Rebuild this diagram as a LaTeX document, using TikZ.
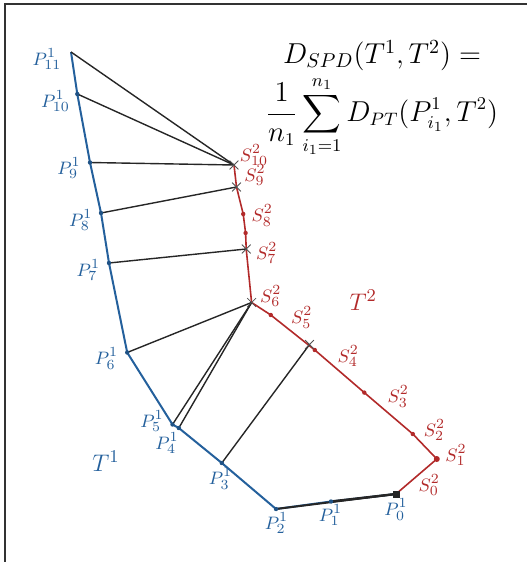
\documentclass[tikz,border=0pt]{standalone}
\usepackage{amsmath,amssymb}
\usepackage{tikz}
\usetikzlibrary{positioning,shapes.misc}
\usepackage{xcolor}
\definecolor{trajblue}{RGB}{36,96,156}
\definecolor{trajred}{RGB}{178,42,42}
\definecolor{projgray}{RGB}{38,38,38}

\begin{document}
\begin{tikzpicture}[x=0.5pt, y=-0.5pt,
  lab/.style={inner sep=0pt, font=\fontsize{9.5}{11}\selectfont},
  plab/.style={lab, text=trajblue},
  slab/.style={lab, text=trajred},
  tlab/.style={inner sep=0pt, font=\fontsize{13}{15}\selectfont},
  tone/.style={draw=trajblue, line width=1pt, line join=round},
  ttwo/.style={draw=trajred, line width=0.8pt, line join=round},
  proj/.style={draw=projgray, line width=0.7pt},
  pdot/.style={circle, fill=trajblue!85!black, inner sep=0pt, minimum size=2.2pt},
  sdot/.style={circle, fill=trajred, inner sep=0pt, minimum size=2.2pt},
  hit/.style={cross out, draw=projgray!80, line width=0.4pt, inner sep=0pt, minimum size=4pt}]
\useasboundingbox (0,0) rectangle (527,562);
\draw[line width=0.7pt, black!80] (5,562) -- (5,4) -- (527,4);

% trajectory T^1
\coordinate (P0) at (396,494);
\coordinate (P1) at (331,501.5);
\coordinate (P2) at (276,509);
\coordinate (P3) at (221.8,463);
\coordinate (P4) at (178.8,428);
\coordinate (P5) at (172.5,424.5);
\coordinate (P6) at (127.2,352.5);
\coordinate (P7) at (109,263);
\coordinate (P8) at (101,213);
\coordinate (P9) at (90,162.5);
\coordinate (P10) at (77.3,94);
\coordinate (P11) at (71,52);

% trajectory T^2
\coordinate (S0) at (396,494);
\coordinate (S1) at (436.8,459);
\coordinate (S2) at (412.8,434);
\coordinate (S3) at (364.3,392.6);
\coordinate (S4) at (314.8,350);
\coordinate (S5) at (270.8,315);
\coordinate (S6) at (251.6,302.5);
\coordinate (S7) at (246.2,249);
\coordinate (Sx) at (245.6,233);
\coordinate (S8) at (243.2,214);
\coordinate (S9) at (236.5,187);
\coordinate (S10) at (234,165);
\coordinate (X) at (309.5,344.5);

\draw[tone] (P0) -- (P1) -- (P2) -- (P3) -- (P4) -- (P5) -- (P6) -- (P7)
  -- (P8) -- (P9) -- (P10) -- (P11);
\draw[ttwo] (S0) -- (S1) -- (S2) -- (S3) -- (S4) -- (S5) -- (S6) -- (S7)
  -- (Sx) -- (S8) -- (S9) -- (S10);

% closest points
\foreach \p/\s in {P11/S10,P10/S10,P9/S10,P8/S9,P7/S7,P6/S6,P5/S6,P4/S6,P3/X}
  \draw[proj] (\p) -- (\s);
\draw[proj, line width=1pt] (P2) -- (S0);
\draw[proj, line width=1.2pt] (P1) -- (S0);

\foreach \p in {P1,P2,P3,P4,P5,P6,P7,P8,P9,P10}
  \node[pdot] at (\p) {};
\foreach \s in {S2,S3,S4,S5,S8,Sx}
  \node[sdot] at (\s) {};
\node[sdot, minimum size=3pt] at (S1) {};
\node[fill=projgray, inner sep=0pt, minimum size=3.5pt] at (P0) {};
\foreach \s in {S10,S9,S7,S6,X}
  \node[hit] at (\s) {};

% labels
\node[plab] (lP11) at (47,59) {$P^1_{11}$};
\node[plab] (lP10) at (55.5,101) {$P^1_{10}$};
\node[plab] (lP9) at (69,168) {$P^1_{9}$};
\node[plab] (lP8) at (80.7,220) {$P^1_{8}$};
\node[plab] (lP7) at (88.3,270) {$P^1_{7}$};
\node[plab] (lP6) at (106.5,358.5) {$P^1_{6}$};
\node[plab] (lP5) at (152,421) {$P^1_{5}$};
\node[plab] (lP4) at (167,443) {$P^1_{4}$};
\node[plab] (lP3) at (220.5,478.5) {$P^1_{3}$};
\node[plab] (lP2) at (276.5,523) {$P^1_{2}$};
\node[plab] (lP1) at (330.5,515) {$P^1_{1}$};
\node[plab] (lP0) at (396,509.5) {$P^1_{0}$};
\node[slab] (lS0) at (429.3,485) {$S^2_{0}$};
\node[slab] (lS1) at (456,455) {$S^2_{1}$};
\node[slab] (lS2) at (434.5,430) {$S^2_{2}$};
\node[slab] (lS3) at (398.3,396.5) {$S^2_{3}$};
\node[slab] (lS4) at (348.3,356) {$S^2_{4}$};
\node[slab] (lS5) at (301.7,317.5) {$S^2_{5}$};
\node[slab] (lS6) at (270.7,296) {$S^2_{6}$};
\node[slab] (lS7) at (266.7,253) {$S^2_{7}$};
\node[slab] (lS8) at (262.3,215.5) {$S^2_{8}$};
\node[slab] (lS9) at (255,175) {$S^2_{9}$};
\node[slab] (lS10) at (254,155) {$S^2_{10}$};
\node[tlab, text=trajblue] (lT1) at (106,461.5) {$T^1$};
\node[tlab, text=trajred] (lT2) at (363.3,300.5) {$T^2$};

\node[tlab, font=\fontsize{13.6}{16}\selectfont] (dspd) at (382,55.5) {$D_{SPD}(T^1,T^2) =$};
\node[tlab, font=\fontsize{13.4}{16}\selectfont] (dsum) at (382,117) {$\displaystyle\frac{1}{n_1}\sum_{i_1=1}^{n_1} D_{PT}(P^1_{i_1},T^2)$};
\end{tikzpicture}
\end{document}
